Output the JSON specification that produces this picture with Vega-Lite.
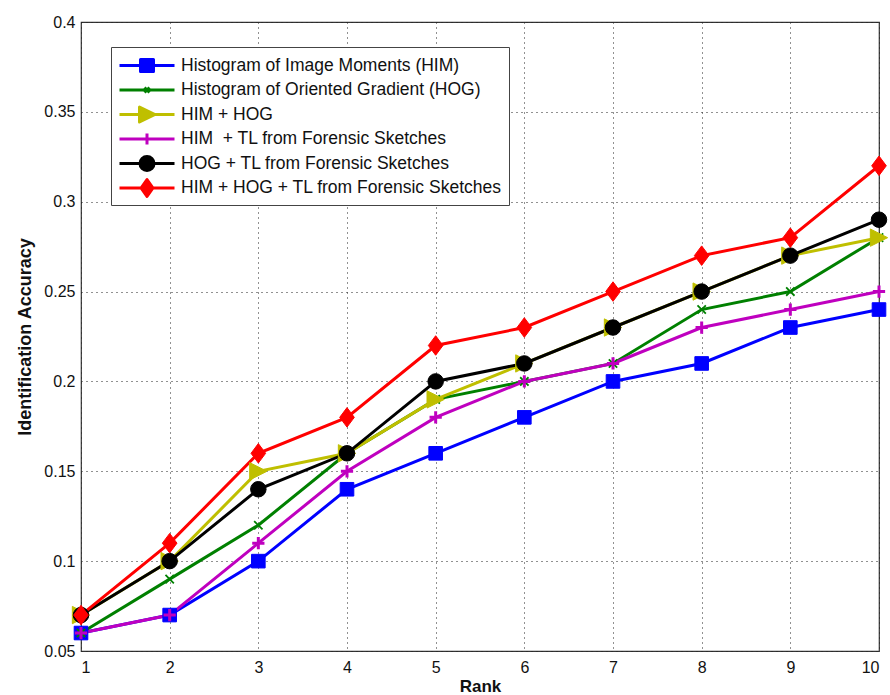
{
  "$schema": "https://vega.github.io/schema/vega-lite/v6.json",
  "width": 798,
  "height": 629,
  "autosize": {"type": "none"},
  "padding": {"left": 81, "top": 22, "right": 11, "bottom": 44},
  "background": "white",
  "config": {
    "font": "Liberation Sans",
    "view": {"stroke": "#333333", "strokeWidth": 1.2},
    "axis": {
      "labelFont": "Liberation Sans",
      "labelFontSize": 16,
      "labelColor": "#111111",
      "titleFont": "Liberation Sans",
      "titleFontWeight": "bold",
      "titleColor": "#111111",
      "domain": false,
      "tickColor": "#333333",
      "tickSize": 0,
      "gridColor": "#222222",
      "gridDash": [1, 4],
      "gridWidth": 1,
      "gridOpacity": 1
    }
  },
  "data": {
    "values": [
      {"rank": 1, "series": "Histogram of Image Moments (HIM)", "acc": 0.06},
      {"rank": 2, "series": "Histogram of Image Moments (HIM)", "acc": 0.07},
      {"rank": 3, "series": "Histogram of Image Moments (HIM)", "acc": 0.10},
      {"rank": 4, "series": "Histogram of Image Moments (HIM)", "acc": 0.14},
      {"rank": 5, "series": "Histogram of Image Moments (HIM)", "acc": 0.16},
      {"rank": 6, "series": "Histogram of Image Moments (HIM)", "acc": 0.18},
      {"rank": 7, "series": "Histogram of Image Moments (HIM)", "acc": 0.20},
      {"rank": 8, "series": "Histogram of Image Moments (HIM)", "acc": 0.21},
      {"rank": 9, "series": "Histogram of Image Moments (HIM)", "acc": 0.23},
      {"rank": 10, "series": "Histogram of Image Moments (HIM)", "acc": 0.24},
      {"rank": 1, "series": "Histogram of Oriented Gradient (HOG)", "acc": 0.06},
      {"rank": 2, "series": "Histogram of Oriented Gradient (HOG)", "acc": 0.09},
      {"rank": 3, "series": "Histogram of Oriented Gradient (HOG)", "acc": 0.12},
      {"rank": 4, "series": "Histogram of Oriented Gradient (HOG)", "acc": 0.16},
      {"rank": 5, "series": "Histogram of Oriented Gradient (HOG)", "acc": 0.19},
      {"rank": 6, "series": "Histogram of Oriented Gradient (HOG)", "acc": 0.20},
      {"rank": 7, "series": "Histogram of Oriented Gradient (HOG)", "acc": 0.21},
      {"rank": 8, "series": "Histogram of Oriented Gradient (HOG)", "acc": 0.24},
      {"rank": 9, "series": "Histogram of Oriented Gradient (HOG)", "acc": 0.25},
      {"rank": 10, "series": "Histogram of Oriented Gradient (HOG)", "acc": 0.28},
      {"rank": 1, "series": "HIM + HOG", "acc": 0.07},
      {"rank": 2, "series": "HIM + HOG", "acc": 0.10},
      {"rank": 3, "series": "HIM + HOG", "acc": 0.15},
      {"rank": 4, "series": "HIM + HOG", "acc": 0.16},
      {"rank": 5, "series": "HIM + HOG", "acc": 0.19},
      {"rank": 6, "series": "HIM + HOG", "acc": 0.21},
      {"rank": 7, "series": "HIM + HOG", "acc": 0.23},
      {"rank": 8, "series": "HIM + HOG", "acc": 0.25},
      {"rank": 9, "series": "HIM + HOG", "acc": 0.27},
      {"rank": 10, "series": "HIM + HOG", "acc": 0.28},
      {"rank": 1, "series": "HIM\u00a0 + TL from Forensic Sketches", "acc": 0.06},
      {"rank": 2, "series": "HIM\u00a0 + TL from Forensic Sketches", "acc": 0.07},
      {"rank": 3, "series": "HIM\u00a0 + TL from Forensic Sketches", "acc": 0.11},
      {"rank": 4, "series": "HIM\u00a0 + TL from Forensic Sketches", "acc": 0.15},
      {"rank": 5, "series": "HIM\u00a0 + TL from Forensic Sketches", "acc": 0.18},
      {"rank": 6, "series": "HIM\u00a0 + TL from Forensic Sketches", "acc": 0.20},
      {"rank": 7, "series": "HIM\u00a0 + TL from Forensic Sketches", "acc": 0.21},
      {"rank": 8, "series": "HIM\u00a0 + TL from Forensic Sketches", "acc": 0.23},
      {"rank": 9, "series": "HIM\u00a0 + TL from Forensic Sketches", "acc": 0.24},
      {"rank": 10, "series": "HIM\u00a0 + TL from Forensic Sketches", "acc": 0.25},
      {"rank": 1, "series": "HOG + TL from Forensic Sketches", "acc": 0.07},
      {"rank": 2, "series": "HOG + TL from Forensic Sketches", "acc": 0.10},
      {"rank": 3, "series": "HOG + TL from Forensic Sketches", "acc": 0.14},
      {"rank": 4, "series": "HOG + TL from Forensic Sketches", "acc": 0.16},
      {"rank": 5, "series": "HOG + TL from Forensic Sketches", "acc": 0.20},
      {"rank": 6, "series": "HOG + TL from Forensic Sketches", "acc": 0.21},
      {"rank": 7, "series": "HOG + TL from Forensic Sketches", "acc": 0.23},
      {"rank": 8, "series": "HOG + TL from Forensic Sketches", "acc": 0.25},
      {"rank": 9, "series": "HOG + TL from Forensic Sketches", "acc": 0.27},
      {"rank": 10, "series": "HOG + TL from Forensic Sketches", "acc": 0.29},
      {"rank": 1, "series": "HIM + HOG + TL from Forensic Sketches", "acc": 0.07},
      {"rank": 2, "series": "HIM + HOG + TL from Forensic Sketches", "acc": 0.11},
      {"rank": 3, "series": "HIM + HOG + TL from Forensic Sketches", "acc": 0.16},
      {"rank": 4, "series": "HIM + HOG + TL from Forensic Sketches", "acc": 0.18},
      {"rank": 5, "series": "HIM + HOG + TL from Forensic Sketches", "acc": 0.22},
      {"rank": 6, "series": "HIM + HOG + TL from Forensic Sketches", "acc": 0.23},
      {"rank": 7, "series": "HIM + HOG + TL from Forensic Sketches", "acc": 0.25},
      {"rank": 8, "series": "HIM + HOG + TL from Forensic Sketches", "acc": 0.27},
      {"rank": 9, "series": "HIM + HOG + TL from Forensic Sketches", "acc": 0.28},
      {"rank": 10, "series": "HIM + HOG + TL from Forensic Sketches", "acc": 0.32}
    ]
  },
  "encoding": {
    "x": {
      "field": "rank",
      "type": "quantitative",
      "scale": {"domain": [1, 10], "nice": false, "zero": false},
      "axis": {"values": [1, 2, 3, 4, 5, 6, 7, 8, 9, 10], "title": "Rank", "titleFontSize": 17, "labelPadding": 8, "titlePadding": 3, "format": "d"}
    },
    "y": {
      "field": "acc",
      "type": "quantitative",
      "scale": {"domain": [0.05, 0.4], "nice": false, "zero": false},
      "axis": {"values": [0.05, 0.1, 0.15, 0.2, 0.25, 0.3, 0.35, 0.4], "format": ".2~f", "title": "Identification Accuracy", "titleFontSize": 18, "labelPadding": 6, "titlePadding": 9}
    }
  },
  "layer": [
    {
      "mark": {"type": "line", "strokeWidth": 3},
      "encoding": {
        "color": {
          "field": "series",
          "type": "nominal",
          "sort": null,
          "scale": {
            "domain": ["Histogram of Image Moments (HIM)", "Histogram of Oriented Gradient (HOG)", "HIM + HOG", "HIM\u00a0 + TL from Forensic Sketches", "HOG + TL from Forensic Sketches", "HIM + HOG + TL from Forensic Sketches"],
            "range": ["#0000ff", "#008000", "#bfbf00", "#bf00bf", "#000000", "#ff0000"]
          },
          "legend": {
            "title": null,
            "orient": "none",
            "legendX": 30,
            "legendY": 25,
            "direction": "vertical",
            "fillColor": "white",
            "strokeColor": "#444444",
            "padding": 7,
            "rowPadding": 2.5,
            "gridAlign": "all",
            "labelFont": "Liberation Sans",
            "labelFontSize": 17.5,
            "labelColor": "#111111",
            "labelOffset": 40,
            "labelLimit": 500,
            "symbolStrokeWidth": 3,
            "symbolSize": 400,
            "symbolType": "M-1,0H1",
            "encode": {
              "symbols": {
                "update": {
                  "shape": {"signal": "datum.index === 0 ? 'M-1,0H4.5M1.1,-0.6H2.4V0.6H1.1Z' : datum.index === 1 ? 'M-1,0H4.5M1.5,-0.25L2,0.25M1.5,0.25L2,-0.25' : datum.index === 2 ? 'M-1,0H4.5M1,-0.75L2.55,0L1,0.75Z' : datum.index === 3 ? 'M-1,0H4.5M1.2,0H2.3M1.75,-0.55V0.55' : datum.index === 4 ? 'M-1,0H4.5M2.45,0A0.7,0.7,0,1,1,1.05,0A0.7,0.7,0,1,1,2.45,0Z' : 'M-1,0H4.5M1.75,-0.85L2.35,0L1.75,0.85L1.15,0Z'"},
                  "fill": {"signal": "scale('color', datum.value)"},
                  "stroke": {"signal": "scale('color', datum.value)"},
                  "strokeWidth": {"value": 3},
                  "strokeJoin": {"value": "round"},
                  "size": {"value": 400},
                  "opacity": {"value": 1}
                }
              }
            }
          }
        }
      }
    },
    {
      "transform": [{"filter": {"field": "series", "equal": "Histogram of Image Moments (HIM)"}}],
      "mark": {"type": "point", "shape": "square", "size": 185, "filled": true, "fill": "#0000ff", "stroke": "#0000ff", "strokeWidth": 1, "opacity": 1}
    },
    {
      "transform": [{"filter": {"field": "series", "equal": "Histogram of Oriented Gradient (HOG)"}}],
      "mark": {"type": "point", "shape": "M-1,-1L1,1M-1,1L1,-1", "size": 70, "filled": false, "stroke": "#008000", "strokeWidth": 1.8, "opacity": 1}
    },
    {
      "transform": [{"filter": {"field": "series", "equal": "HIM + HOG"}}],
      "mark": {"type": "point", "shape": "M-1,-1L1,0L-1,1Z", "size": 300, "filled": true, "fill": "#bfbf00", "stroke": "#bfbf00", "strokeWidth": 1, "opacity": 1}
    },
    {
      "transform": [{"filter": {"field": "series", "equal": "HIM\u00a0 + TL from Forensic Sketches"}}],
      "mark": {"type": "point", "shape": "M-1,0H1M0,-1V1", "size": 150, "filled": false, "stroke": "#bf00bf", "strokeWidth": 3, "opacity": 1}
    },
    {
      "transform": [{"filter": {"field": "series", "equal": "HOG + TL from Forensic Sketches"}}],
      "mark": {"type": "point", "shape": "circle", "size": 240, "filled": true, "fill": "#000000", "stroke": "#000000", "strokeWidth": 1, "opacity": 1}
    },
    {
      "transform": [{"filter": {"field": "series", "equal": "HIM + HOG + TL from Forensic Sketches"}}],
      "mark": {"type": "point", "shape": "M0,-1L0.75,0L0,1L-0.75,0Z", "size": 380, "filled": true, "fill": "#ff0000", "stroke": "#ff0000", "strokeWidth": 1, "opacity": 1}
    }
  ]
}
